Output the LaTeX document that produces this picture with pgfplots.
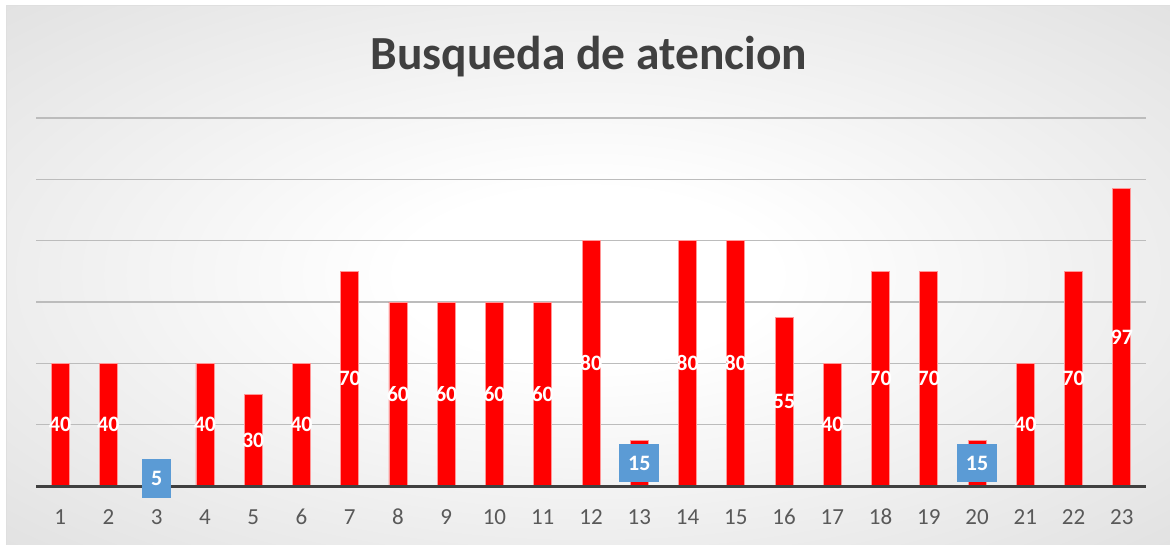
\documentclass[border=0pt]{standalone}
\usepackage{pgfplots}
\pgfplotsset{compat=1.18}
\usepackage{pgfplotstable}
\usepackage{fontspec}
\setmainfont{Carlito}
\pgfkeys{/pgf/number format/assume math mode=true}
\definecolor{barred}{RGB}{255,0,0}
\definecolor{baredge}{RGB}{255,150,150}
\definecolor{boxblue}{RGB}{91,155,213}
\definecolor{ticktxt}{RGB}{89,89,89}
\definecolor{titletxt}{RGB}{64,64,64}
\definecolor{basecol}{RGB}{64,64,64}
\definecolor{gridcol}{RGB}{188,188,188}
\pgfdeclareradialshading{bgshade}{\pgfpoint{0bp}{0bp}}{color(0bp)=(white); color(8bp)=(white); color(66bp)=(gray!48); color(100bp)=(gray!48)}

\pgfplotstableread{
x v
1 40
2 40
3 5
4 40
5 30
6 40
7 70
8 60
9 60
10 60
11 60
12 80
13 15
14 80
15 80
16 55
17 40
18 70
19 70
20 15
21 40
22 70
23 97
}\data

\begin{document}
\begin{tikzpicture}
\useasboundingbox (-36pt,-58pt) rectangle (1134pt,486pt);
\shade[shading=bgshade] (-30pt,-58pt) rectangle (1134pt,480pt);
\draw[gray!25, line width=1pt] (1140pt,480pt) -- (-30pt,480pt) -- (-30pt,-64pt);
\begin{axis}[
  at={(0pt,0pt)}, anchor=south west,
  scale only axis, width=1110pt, height=368pt,
  xmin=0.5, xmax=23.5, ymin=0, ymax=120,
  xtick={1,...,23}, ytick={20,40,...,120},
  yticklabels={},
  axis x line*=bottom, axis y line*=left,
  x axis line style={draw=none}, y axis line style={draw=none},
  ymajorgrids, grid style={gridcol, line width=1.2pt},
  major tick length=0pt,
  /pgf/number format/assume math mode=true,
  xticklabel style={font=\fontsize{23}{24}\selectfont, text=ticktxt, anchor=center, yshift=-31pt},
  clip=false,
]
\addplot[ybar, bar width=18pt, fill=barred, draw=baredge, line width=0.8pt] table[x=x,y=v]{\data};
\draw[basecol, line width=3pt] (axis cs:0.5,0) -- (axis cs:23.5,0);
\addplot[draw=none, mark=none, nodes near coords, point meta=explicit,
  nodes near coords style={anchor=center, text=white, font=\fontsize{22}{22}\selectfont\bfseries},
  restrict y to domain=10:200] table[x=x, y expr=\thisrow{v}/2, meta=v]{\data};
\addplot[draw=none, mark=none, nodes near coords, point meta=explicit,
  nodes near coords style={anchor=center, text=white, fill=boxblue, inner xsep=9pt, inner ysep=12pt, font=\fontsize{22}{22}\selectfont\bfseries},
  restrict y to domain=0:9.9] table[x=x, y expr=\thisrow{v}/2, meta=v]{\data};
\end{axis}
\node[anchor=base, font=\fontsize{47.5}{48}\selectfont\bfseries, text=titletxt] at (553pt,416pt) {Busqueda de atencion};
\end{tikzpicture}
\end{document}
